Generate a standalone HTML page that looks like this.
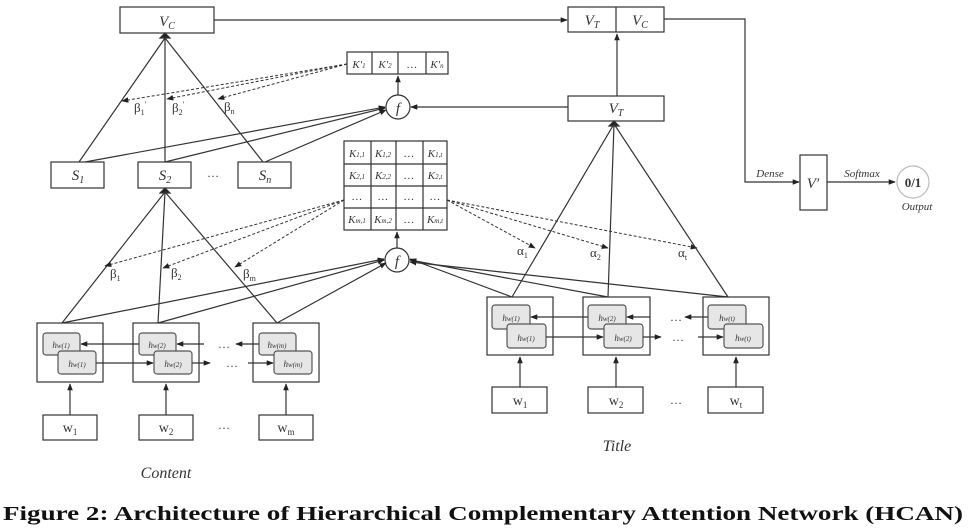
<!DOCTYPE html>
<html><head><meta charset="utf-8"><style>
html,body{margin:0;padding:0;background:#fff}
svg{display:block}
text{font-family:"Liberation Serif",serif;fill:#333}
.i{font-style:italic}
</style></head><body>
<svg width="968" height="532" viewBox="0 0 968 532" xmlns="http://www.w3.org/2000/svg">
<defs>
<marker id="a" viewBox="0 0 10 10" refX="9" refY="5" markerWidth="7" markerHeight="7" orient="auto-start-reverse" markerUnits="userSpaceOnUse"><path d="M0,1 L10,5 L0,9 z" fill="#222"/></marker>
</defs>
<g stroke="#333" stroke-width="1.2" fill="none">
<!-- top boxes -->
<rect x="120" y="7" width="94" height="26" fill="#fff"/>
<rect x="568" y="7" width="96" height="25"/><line x1="616" y1="7" x2="616" y2="32"/>
<rect x="568" y="96" width="96" height="25"/>
<line x1="214" y1="20" x2="567" y2="20" marker-end="url(#a)"/>
<line x1="617" y1="96" x2="617" y2="34" marker-end="url(#a)"/>
<polyline points="664,19 745,19 745,182 799,182" marker-end="url(#a)"/>
<rect x="800" y="155" width="27" height="55"/>
<line x1="827" y1="182" x2="895" y2="182" marker-end="url(#a)"/>
<circle cx="913" cy="182" r="16" stroke="#bbb"/>
<!-- K' -->
<rect x="347" y="52" width="101" height="22"/>
<line x1="372" y1="52" x2="372" y2="74"/><line x1="398" y1="52" x2="398" y2="74"/><line x1="426" y1="52" x2="426" y2="74"/>
<circle cx="398" cy="107" r="12"/>
<line x1="398" y1="95" x2="398" y2="76" marker-end="url(#a)"/>
<line x1="568" y1="107" x2="411" y2="107" marker-end="url(#a)"/>
<!-- VC tree -->
<line x1="165" y1="38" x2="79" y2="162"/><line x1="165" y1="38" x2="165" y2="162"/><line x1="165" y1="38" x2="263" y2="162"/>
<path d="M160,38 L170,38 L165,33 z" fill="#222"/>
<rect x="51" y="162" width="53" height="26" fill="#fff"/>
<rect x="138" y="162" width="53" height="26" fill="#fff"/>
<rect x="238" y="162" width="53" height="26" fill="#fff"/>
<line x1="85" y1="162" x2="385" y2="107" marker-end="url(#a)"/>
<line x1="165" y1="162" x2="385" y2="108" marker-end="url(#a)"/>
<line x1="265" y1="162" x2="386" y2="110" marker-end="url(#a)"/>
<g stroke-dasharray="3,2" stroke-width="1">
<line x1="347" y1="64" x2="122" y2="101" marker-end="url(#a)"/>
<line x1="347" y1="64" x2="167" y2="99" marker-end="url(#a)"/>
<line x1="347" y1="64" x2="218" y2="99" marker-end="url(#a)"/>
</g>
<!-- K matrix -->
<rect x="344" y="141" width="103" height="89" fill="#fff"/>
<line x1="371" y1="141" x2="371" y2="230"/><line x1="396" y1="141" x2="396" y2="230"/><line x1="423" y1="141" x2="423" y2="230"/>
<line x1="344" y1="164" x2="447" y2="164"/><line x1="344" y1="186" x2="447" y2="186"/><line x1="344" y1="208" x2="447" y2="208"/>
<circle cx="397" cy="260" r="12"/>
<line x1="397" y1="248" x2="397" y2="232" marker-end="url(#a)"/>
<!-- S2 tree -->
<path d="M160,193 L170,193 L165,188 z" fill="#222"/>
<line x1="165" y1="192" x2="62" y2="323"/><line x1="165" y1="192" x2="158" y2="323"/><line x1="165" y1="192" x2="277" y2="323"/>
<line x1="62" y1="323" x2="384" y2="259" marker-end="url(#a)"/>
<line x1="158" y1="323" x2="384" y2="260" marker-end="url(#a)"/>
<line x1="277" y1="323" x2="386" y2="263" marker-end="url(#a)"/>
<g stroke-dasharray="3,2" stroke-width="1">
<line x1="344" y1="200" x2="105" y2="266" marker-end="url(#a)"/>
<line x1="344" y1="200" x2="163" y2="268" marker-end="url(#a)"/>
<line x1="344" y1="200" x2="235" y2="267" marker-end="url(#a)"/>
<line x1="447" y1="200" x2="535" y2="248" marker-end="url(#a)"/>
<line x1="447" y1="200" x2="608" y2="248" marker-end="url(#a)"/>
<line x1="447" y1="200" x2="697" y2="248" marker-end="url(#a)"/>
</g>
<!-- VT tree -->
<path d="M609,126 L619,126 L614,121 z" fill="#222"/>
<line x1="614" y1="124" x2="512" y2="297"/><line x1="614" y1="124" x2="608" y2="297"/><line x1="614" y1="124" x2="728" y2="297"/>
<line x1="512" y1="297" x2="410" y2="259" marker-end="url(#a)"/>
<line x1="608" y1="297" x2="410" y2="260" marker-end="url(#a)"/>
<line x1="728" y1="297" x2="410" y2="262" marker-end="url(#a)"/>
<!-- content h boxes -->
<rect x="37" y="323" width="66" height="59" fill="#fff"/>
<rect x="133" y="323" width="66" height="59" fill="#fff"/>
<rect x="253" y="323" width="66" height="59" fill="#fff"/>
<rect x="487" y="297" width="66" height="58" fill="#fff"/>
<rect x="583" y="297" width="67" height="58" fill="#fff"/>
<rect x="703" y="297" width="66" height="58" fill="#fff"/>
<g fill="#e6e6e6" stroke="#555">
<rect x="43" y="333" width="37" height="22" rx="3"/><rect x="58" y="351" width="38" height="23" rx="3"/>
<rect x="139" y="333" width="37" height="22" rx="3"/><rect x="154" y="351" width="38" height="23" rx="3"/>
<rect x="259" y="333" width="37" height="22" rx="3"/><rect x="274" y="351" width="38" height="23" rx="3"/>
<rect x="492" y="305" width="38" height="24" rx="3"/><rect x="507" y="324" width="39" height="24" rx="3"/>
<rect x="588" y="305" width="38" height="24" rx="3"/><rect x="604" y="324" width="39" height="24" rx="3"/>
<rect x="708" y="305" width="38" height="24" rx="3"/><rect x="724" y="324" width="39" height="24" rx="3"/>
</g>
<!-- horizontal arrows content -->
<line x1="139" y1="344" x2="81" y2="344" marker-end="url(#a)"/>
<line x1="204" y1="344" x2="177" y2="344" marker-end="url(#a)"/>
<line x1="259" y1="344" x2="236" y2="344" marker-end="url(#a)"/>
<line x1="96" y1="363" x2="153" y2="363" marker-end="url(#a)"/>
<line x1="192" y1="363" x2="210" y2="363" marker-end="url(#a)"/>
<line x1="248" y1="363" x2="273" y2="363" marker-end="url(#a)"/>
<line x1="588" y1="317" x2="531" y2="317" marker-end="url(#a)"/>
<line x1="650" y1="317" x2="627" y2="317" marker-end="url(#a)"/>
<line x1="708" y1="317" x2="685" y2="317" marker-end="url(#a)"/>
<line x1="546" y1="337" x2="603" y2="337" marker-end="url(#a)"/>
<line x1="643" y1="337" x2="661" y2="337" marker-end="url(#a)"/>
<line x1="698" y1="337" x2="723" y2="337" marker-end="url(#a)"/>
<!-- w boxes -->
<rect x="43" y="415" width="54" height="25"/><rect x="139" y="415" width="54" height="25"/><rect x="259" y="415" width="54" height="25"/>
<rect x="492" y="387" width="55" height="26"/><rect x="588" y="387" width="55" height="26"/><rect x="708" y="387" width="55" height="26"/>
<line x1="70" y1="415" x2="70" y2="384" marker-end="url(#a)"/>
<line x1="166" y1="415" x2="166" y2="384" marker-end="url(#a)"/>
<line x1="286" y1="415" x2="286" y2="384" marker-end="url(#a)"/>
<line x1="520" y1="387" x2="520" y2="357" marker-end="url(#a)"/>
<line x1="616" y1="387" x2="616" y2="357" marker-end="url(#a)"/>
<line x1="736" y1="387" x2="736" y2="357" marker-end="url(#a)"/>
</g>
<!-- text -->
<g class="i" font-size="15">
<text x="167" y="26" text-anchor="middle" class="i">V<tspan font-size="10" dy="3">C</tspan></text>
<text x="592" y="25" text-anchor="middle" class="i">V<tspan font-size="10" dy="3">T</tspan></text>
<text x="640" y="25" text-anchor="middle" class="i">V<tspan font-size="10" dy="3">C</tspan></text>
<text x="616" y="113" text-anchor="middle" class="i">V<tspan font-size="10" dy="3">T</tspan></text>
<text x="813" y="188" text-anchor="middle" class="i">V′</text>
<text x="78" y="180" text-anchor="middle" class="i">S<tspan font-size="10" dy="3">1</tspan></text>
<text x="165" y="180" text-anchor="middle" class="i">S<tspan font-size="10" dy="3">2</tspan></text>
<text x="265" y="180" text-anchor="middle" class="i">S<tspan font-size="10" dy="3">n</tspan></text>
<text x="398" y="113" text-anchor="middle" class="i">f</text>
<text x="397" y="266" text-anchor="middle" class="i">f</text>
</g>
<g class="i" font-size="11">
<text x="359" y="68" text-anchor="middle">K′<tspan font-size="7">1</tspan></text>
<text x="385" y="68" text-anchor="middle">K′<tspan font-size="7">2</tspan></text>
<text x="412" y="68" text-anchor="middle">…</text>
<text x="437" y="68" text-anchor="middle">K′<tspan font-size="7">n</tspan></text>
<text x="357" y="157" text-anchor="middle">K<tspan font-size="7">1,1</tspan></text>
<text x="383" y="157" text-anchor="middle">K<tspan font-size="7">1,2</tspan></text>
<text x="409" y="157" text-anchor="middle">…</text>
<text x="435" y="157" text-anchor="middle">K<tspan font-size="7">1,t</tspan></text>
<text x="357" y="179" text-anchor="middle">K<tspan font-size="7">2,1</tspan></text>
<text x="383" y="179" text-anchor="middle">K<tspan font-size="7">2,2</tspan></text>
<text x="409" y="179" text-anchor="middle">…</text>
<text x="435" y="179" text-anchor="middle">K<tspan font-size="7">2,t</tspan></text>
<text x="357" y="200" text-anchor="middle" fill="#999">…</text>
<text x="383" y="200" text-anchor="middle" fill="#999">…</text>
<text x="409" y="200" text-anchor="middle" fill="#999">…</text>
<text x="435" y="200" text-anchor="middle" fill="#999">…</text>
<text x="357" y="223" text-anchor="middle">K<tspan font-size="7">m,1</tspan></text>
<text x="383" y="223" text-anchor="middle">K<tspan font-size="7">m,2</tspan></text>
<text x="409" y="223" text-anchor="middle">…</text>
<text x="435" y="223" text-anchor="middle">K<tspan font-size="7">m,t</tspan></text>
<text x="770" y="177" text-anchor="middle">Dense</text>
<text x="862" y="177" text-anchor="middle">Softmax</text>
<text x="917" y="210" text-anchor="middle" fill="#666">Output</text>
</g>
<text x="913" y="187" text-anchor="middle" font-size="13" font-weight="bold">0/1</text>
<g font-size="13">
<text x="134" y="112">β<tspan font-size="8" dy="3">1</tspan><tspan font-size="8" dy="-8">′</tspan></text>
<text x="172" y="112">β<tspan font-size="8" dy="3">2</tspan><tspan font-size="8" dy="-8">′</tspan></text>
<text x="224" y="111">β<tspan font-size="8" dy="3">n</tspan></text>
<text x="110" y="278">β<tspan font-size="8" dy="3">1</tspan></text>
<text x="171" y="277">β<tspan font-size="8" dy="3">2</tspan></text>
<text x="243" y="278">β<tspan font-size="8" dy="3">m</tspan></text>
<text x="517" y="255">α<tspan font-size="8" dy="3">1</tspan></text>
<text x="590" y="257">α<tspan font-size="8" dy="3">2</tspan></text>
<text x="678" y="257">α<tspan font-size="8" dy="3">t</tspan></text>
</g>
<g font-size="9" class="i">
<text x="61" y="348" text-anchor="middle">h<tspan font-size="7">w(1)</tspan></text><text x="77" y="367" text-anchor="middle">h<tspan font-size="7">w(1)</tspan></text>
<text x="157" y="348" text-anchor="middle">h<tspan font-size="7">w(2)</tspan></text><text x="173" y="367" text-anchor="middle">h<tspan font-size="7">w(2)</tspan></text>
<text x="277" y="348" text-anchor="middle">h<tspan font-size="7">w(m)</tspan></text><text x="293" y="367" text-anchor="middle">h<tspan font-size="7">w(m)</tspan></text>
<text x="511" y="321" text-anchor="middle">h<tspan font-size="7">w(1)</tspan></text><text x="526" y="341" text-anchor="middle">h<tspan font-size="7">w(1)</tspan></text>
<text x="607" y="321" text-anchor="middle">h<tspan font-size="7">w(2)</tspan></text><text x="623" y="341" text-anchor="middle">h<tspan font-size="7">w(2)</tspan></text>
<text x="727" y="321" text-anchor="middle">h<tspan font-size="7">w(t)</tspan></text><text x="743" y="341" text-anchor="middle">h<tspan font-size="7">w(t)</tspan></text>
</g>
<g font-size="14">
<text x="70" y="432" text-anchor="middle">w<tspan font-size="9" dy="3">1</tspan></text>
<text x="166" y="432" text-anchor="middle">w<tspan font-size="9" dy="3">2</tspan></text>
<text x="286" y="432" text-anchor="middle">w<tspan font-size="9" dy="3">m</tspan></text>
<text x="520" y="405" text-anchor="middle">w<tspan font-size="9" dy="3">1</tspan></text>
<text x="616" y="405" text-anchor="middle">w<tspan font-size="9" dy="3">2</tspan></text>
<text x="736" y="405" text-anchor="middle">w<tspan font-size="9" dy="3">t</tspan></text>
</g>
<g font-size="12" fill="#777">
<text x="213" y="177" text-anchor="middle">…</text>
<text x="224" y="429" text-anchor="middle">…</text>
<text x="224" y="348" text-anchor="middle">…</text>
<text x="232" y="367" text-anchor="middle">…</text>
<text x="676" y="321" text-anchor="middle">…</text>
<text x="678" y="341" text-anchor="middle">…</text>
<text x="676" y="404" text-anchor="middle">…</text>
</g>
<text x="166" y="478" text-anchor="middle" font-size="16" class="i">Content</text>
<text x="617" y="451" text-anchor="middle" font-size="16" class="i">Title</text>
<text x="3" y="520" font-size="20" font-weight="bold" textLength="960" lengthAdjust="spacingAndGlyphs" style="fill:#111">Figure 2: Architecture of Hierarchical Complementary Attention Network (HCAN)</text>
</svg>
</body></html>
